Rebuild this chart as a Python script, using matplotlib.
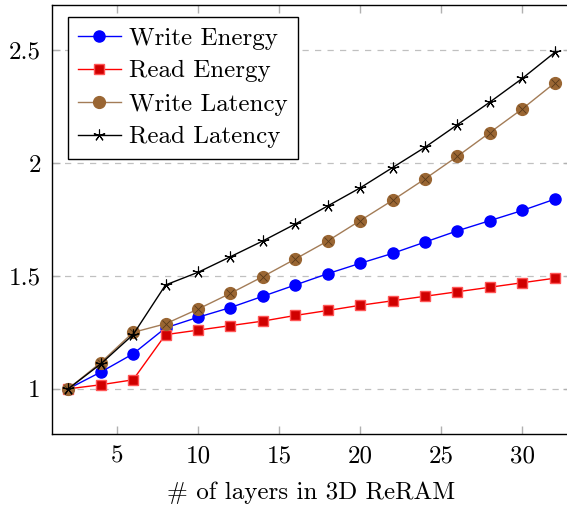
import matplotlib
matplotlib.use("Agg")
import matplotlib.pyplot as plt

# --------------------------------------------------
# Data
# --------------------------------------------------
layers = [2, 4, 6, 8, 10, 12, 14, 16, 18, 20, 22, 24, 26, 28, 30, 32]

write_energy = [1.0, 1.074, 1.155, 1.27, 1.317, 1.36, 1.41, 1.46, 1.51,
                1.556, 1.60, 1.65, 1.70, 1.745, 1.79, 1.84]
read_energy = [1.0, 1.018, 1.04, 1.24, 1.26, 1.28, 1.30, 1.325, 1.347,
               1.37, 1.39, 1.41, 1.43, 1.45, 1.47, 1.49]
write_latency = [1.0, 1.116, 1.25, 1.288, 1.353, 1.423, 1.497, 1.575, 1.655,
                 1.745, 1.835, 1.93, 2.03, 2.135, 2.24, 2.355]
read_latency = [1.0, 1.11, 1.24, 1.46, 1.516, 1.585, 1.655, 1.73, 1.81,
                1.89, 1.98, 2.07, 2.17, 2.27, 2.375, 2.49]

x_ticks = [5, 10, 15, 20, 25, 30]
y_ticks = [1, 1.5, 2, 2.5]
y_tick_labels = ["1", "1.5", "2", "2.5"]

# --------------------------------------------------
# Style
# --------------------------------------------------
plt.rcParams["font.family"] = ["cmr10", "DejaVu Serif"]
plt.rcParams["font.size"] = 18
plt.rcParams["axes.unicode_minus"] = False

brown_line = "#a37c57"
brown_face = "#9a6633"

fig = plt.figure(figsize=(5.67, 5.08), dpi=100)
ax = fig.add_axes([52 / 567, 1 - 434 / 508, (571 - 52) / 567, (434 - 5) / 508])

ax.plot(layers, write_energy, color="blue", lw=1, marker="o", ms=8,
        mfc="blue", mec="blue", label="Write Energy", zorder=3)
ax.plot(layers, read_energy, color="red", lw=1, marker="s", ms=7.5,
        mfc="#d00000", mec="#ff5555", mew=1, label="Read Energy", zorder=3)
ax.plot(layers, write_latency, color=brown_line, lw=1, marker="o", ms=8.5,
        mfc=brown_face, mec=brown_face, label="Write Latency", zorder=3)
# cross inside the brown circles (otimes)
ax.plot(layers, write_latency, ls="none", marker="x", ms=6, mec="#5a3a1a",
        mew=0.6, zorder=4)
ax.plot(layers, read_latency, color="black", lw=1, marker=(5, 2, 0), ms=8.5,
        mew=0.8, label="Read Latency", zorder=5)

ax.set_xlim(1, 33)
ax.set_ylim(0.8, 2.70)
ax.set_xticks(x_ticks)
ax.set_yticks(y_ticks)
ax.set_yticklabels(y_tick_labels)

ax.tick_params(direction="in", top=True, right=True, length=6, width=1,
               color="#b0b0b0", pad=8)
ax.yaxis.grid(True, ls=(0, (5, 5)), color="#c0c0c0", lw=0.9)
ax.set_axisbelow(True)
for s in ax.spines.values():
    s.set_linewidth(1)

ax.set_xlabel("# of layers in 3D ReRAM", labelpad=10)

leg = ax.legend(loc="upper left", bbox_to_anchor=(68 / 567, 1 - 17 / 508),
                bbox_transform=fig.transFigure, borderaxespad=0,
                fancybox=False, edgecolor="black", framealpha=1,
                handlelength=1.7, handletextpad=0.35, borderpad=0.4,
                labelspacing=0.42)
leg.get_frame().set_linewidth(1)

plt.savefig("out.png", dpi=100)
